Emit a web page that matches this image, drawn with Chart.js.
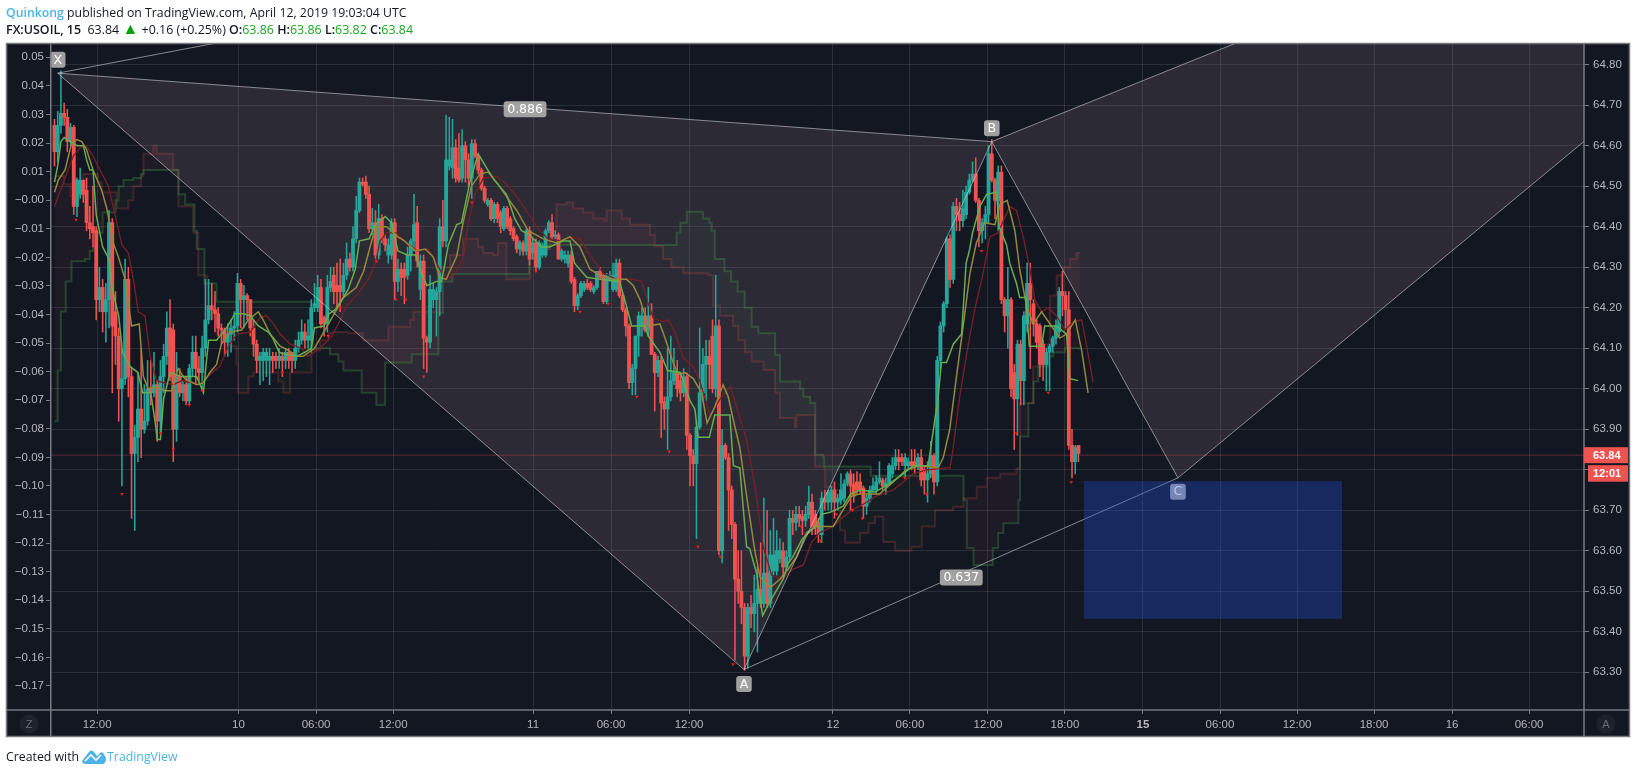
<!DOCTYPE html>
<html>
<head>
<meta charset="utf-8">
<title>FX:USOIL, 15</title>
<script src="https://cdn.jsdelivr.net/npm/chart.js@4/dist/chart.umd.min.js"></script>
<style>
  html, body { margin: 0; padding: 0; background: #fff; }
  #wrap { position: relative; width: 1636px; height: 774px; overflow: hidden; font-family: "Open Sans", sans-serif; color: #131722; }
  canvas { position: absolute; left: 0; top: 0; }
  .line { position: absolute; left: 6px; white-space: pre; font-size: 12.3px; line-height: 17px; }
  #top1 { top: 4px; }
  #top2 { top: 21px; font-size: 12.45px; }
  #foot { top: 748px; display: flex; align-items: center; }
  .brand { color: #4db3e6; }
  .up { color: #17a821; }
  .arrow { color: #0a9e0a; font-size: 16px; line-height: 14px; }
  b { font-weight: 600; }
  svg { margin: 0 1px 0 3px; }
</style>
</head>
<body>
<div id="wrap">
  <canvas id="chart" width="1636" height="774"></canvas>
  <div class="line" id="top1"><b class="brand">Quinkong</b> published on TradingView.com, April 12, 2019 19:03:04 UTC</div>
  <div class="line" id="top2"><b>FX:USOIL, 15</b>  63.84 <span class="arrow">▲</span> +0.16 (+0.25%) <b>O:</b><span class="up">63.86</span> <b>H:</b><span class="up">63.86</span> <b>L:</b><span class="up">63.82</span> <b>C:</b><span class="up">63.84</span></div>
  <div class="line" id="foot">Created with<svg width="24" height="15" viewBox="0 0 24 15"><path d="M0 12 L7 3 Q9 0 12 3 L15 7 L18 4 Q20 2 22 5 L24 9 Q24 15 20 15 L4 15 Q0 15 0 12 Z" fill="#4db3e6"/><path d="M3 12 L9 6 L14 11 L19 6" fill="none" stroke="#fff" stroke-width="1.6"/></svg><span class="brand">TradingView</span></div>
</div>
<script>
// candles, one per 15 minute bar
const opens = [
  64.65,64.585,64.65,64.68,64.67,64.61,64.645,64.45,64.48,64.515,
  64.49,64.41,64.40,64.39,64.22,64.25,64.19,64.22,64.41,64.19,
  64.13,64.00,64.025,64.27,64.03,63.84,63.88,63.95,63.90,63.92,
  64.00,63.99,64.01,63.92,64.03,64.08,64.15,64.145,63.90,64.03,
  63.99,64.01,63.97,64.05,64.09,64.05,64.04,64.10,64.17,64.205,
  64.195,64.185,64.15,64.145,64.115,64.135,64.15,64.155,64.26,64.22,
  64.23,64.22,64.15,64.11,64.07,64.07,64.07,64.07,64.08,64.08,
  64.07,64.08,64.07,64.09,64.09,64.07,64.10,64.12,64.14,64.12,
  64.12,64.20,64.20,64.25,64.175,64.16,64.25,64.28,64.255,64.255,
  64.24,64.28,64.32,64.30,64.37,64.44,64.51,64.51,64.48,64.395,
  64.41,64.33,64.42,64.37,64.33,64.33,64.41,64.265,64.295,64.295,
  64.28,64.33,64.365,64.41,64.245,64.315,64.125,64.115,64.22,64.22,
  64.24,64.40,64.365,64.55,64.545,64.595,64.545,64.52,64.60,64.565,
  64.52,64.605,64.575,64.54,64.495,64.455,64.465,64.42,64.455,64.435,
  64.395,64.445,64.42,64.395,64.375,64.345,64.36,64.34,64.39,64.335,
  64.36,64.30,64.33,64.33,64.39,64.41,64.375,64.38,64.32,64.32,
  64.31,64.33,64.27,64.205,64.23,64.245,64.26,64.26,64.24,64.25,
  64.29,64.28,64.215,64.27,64.245,64.245,64.31,64.23,64.195,64.155,
  64.015,64.05,64.13,64.155,64.18,64.145,64.18,64.085,64.04,64.07,
  63.968,63.95,63.98,64.02,64.04,64.02,63.99,64.03,63.885,63.835,
  63.815,63.905,63.99,64.06,64.08,64.13,64.00,64.155,63.60,63.86,
  63.83,63.75,63.665,63.53,63.50,63.46,63.34,63.46,63.445,63.47,
  63.505,63.47,63.545,63.47,63.55,63.55,63.58,63.60,63.56,63.585,
  63.68,63.67,63.69,63.685,63.675,63.69,63.72,63.69,63.67,63.64,
  63.73,63.72,63.72,63.75,63.72,63.725,63.73,63.765,63.79,63.765,
  63.77,63.77,63.755,63.71,63.73,63.75,63.75,63.77,63.775,63.757,
  63.767,63.79,63.81,63.83,63.83,63.81,63.81,63.82,63.82,63.81,
  63.83,63.80,63.775,63.79,63.835,63.77,64.07,64.155,64.21,64.37,
  64.27,64.45,64.43,64.415,64.43,64.485,64.515,64.53,64.465,64.39,
  64.41,64.43,64.58,64.515,64.465,64.535,64.22,64.18,64.22,64.04,
  63.975,64.11,64.02,64.16,64.26,64.21,64.16,64.155,64.11,64.06,
  64.09,64.105,64.125,64.14,64.24,64.23,64.195,63.86,63.82,63.86
];
const closes = [
  64.585,64.65,64.68,64.67,64.61,64.645,64.45,64.515,64.515,64.48,
  64.41,64.395,64.385,64.22,64.25,64.19,64.22,64.41,64.155,64.13,
  64.00,64.025,64.27,64.03,63.84,63.88,63.95,63.90,63.92,64.00,
  63.99,64.01,63.92,64.03,64.08,64.15,64.03,63.90,64.03,63.99,
  64.01,63.97,64.05,64.09,64.05,64.04,64.10,64.17,64.205,64.195,
  64.185,64.15,64.145,64.115,64.135,64.15,64.155,64.26,64.22,64.23,
  64.22,64.15,64.11,64.07,64.08,64.09,64.09,64.08,64.07,64.07,
  64.08,64.07,64.09,64.07,64.07,64.10,64.12,64.14,64.12,64.13,
  64.20,64.21,64.25,64.16,64.16,64.25,64.265,64.24,64.24,64.24,
  64.28,64.32,64.30,64.37,64.44,64.51,64.505,64.48,64.395,64.41,
  64.33,64.42,64.37,64.355,64.355,64.41,64.265,64.295,64.275,64.275,
  64.33,64.365,64.405,64.315,64.315,64.125,64.115,64.245,64.245,64.24,
  64.40,64.365,64.565,64.565,64.595,64.52,64.515,64.60,64.565,64.52,
  64.605,64.575,64.54,64.495,64.465,64.465,64.42,64.455,64.42,64.40,
  64.445,64.40,64.39,64.37,64.345,64.36,64.34,64.39,64.32,64.36,
  64.30,64.36,64.353,64.39,64.41,64.375,64.38,64.32,64.34,64.33,
  64.33,64.265,64.205,64.23,64.26,64.26,64.25,64.245,64.25,64.29,
  64.275,64.215,64.28,64.28,64.28,64.31,64.23,64.195,64.155,64.015,
  64.05,64.13,64.18,64.18,64.145,64.18,64.085,64.04,64.07,63.965,
  63.95,63.98,64.02,64.04,64.00,63.99,64.03,63.885,63.835,63.815,
  63.905,63.99,64.06,64.08,64.06,64.00,64.155,63.60,63.86,63.83,
  63.75,63.665,63.53,63.50,63.46,63.34,63.46,63.445,63.47,63.505,
  63.47,63.545,63.47,63.59,63.59,63.60,63.60,63.56,63.585,63.68,
  63.67,63.69,63.68,63.675,63.69,63.72,63.66,63.66,63.64,63.73,
  63.72,63.745,63.75,63.72,63.73,63.75,63.765,63.79,63.76,63.735,
  63.75,63.75,63.71,63.73,63.75,63.76,63.77,63.78,63.76,63.767,
  63.81,63.81,63.83,63.82,63.82,63.83,63.82,63.81,63.81,63.83,
  63.775,63.775,63.79,63.835,63.77,64.07,64.155,64.21,64.37,64.27,
  64.45,64.43,64.415,64.445,64.485,64.515,64.53,64.465,64.39,64.41,
  64.43,64.58,64.515,64.465,64.535,64.22,64.18,64.22,64.00,63.975,
  64.11,64.02,64.18,64.26,64.22,64.16,64.115,64.06,64.06,64.09,
  64.105,64.125,64.155,64.24,64.23,64.195,63.86,63.82,63.855,63.84
];
const highs = [
  64.665,64.685,64.785,64.705,64.69,64.655,64.65,64.52,64.545,64.515,
  64.52,64.45,64.50,64.40,64.30,64.27,64.26,64.44,64.42,64.24,
  64.15,64.10,64.32,64.30,64.05,63.91,64.04,64.10,64.01,64.07,
  64.07,64.09,64.02,64.07,64.11,64.19,64.22,64.16,64.09,64.05,
  64.02,64.03,64.06,64.13,64.13,64.08,64.13,64.27,64.27,64.26,
  64.24,64.20,64.16,64.15,64.16,64.17,64.19,64.285,64.27,64.255,
  64.235,64.22,64.17,64.12,64.09,64.10,64.10,64.10,64.09,64.09,
  64.10,64.09,64.10,64.10,64.09,64.12,64.14,64.17,64.16,64.17,
  64.22,64.26,64.28,64.27,64.18,64.28,64.30,64.30,64.31,64.32,
  64.31,64.36,64.335,64.40,64.475,64.52,64.52,64.525,64.50,64.445,
  64.44,64.455,64.43,64.38,64.37,64.42,64.42,64.32,64.31,64.31,
  64.35,64.37,64.48,64.45,64.33,64.33,64.13,64.28,64.26,64.25,
  64.42,64.465,64.675,64.67,64.665,64.615,64.63,64.64,64.61,64.58,
  64.615,64.615,64.58,64.545,64.50,64.47,64.47,64.46,64.46,64.44,
  64.45,64.45,64.425,64.40,64.38,64.365,64.365,64.395,64.40,64.37,
  64.37,64.365,64.36,64.395,64.415,64.43,64.39,64.385,64.345,64.34,
  64.34,64.34,64.275,64.235,64.265,64.265,64.27,64.265,64.255,64.29,
  64.30,64.285,64.285,64.29,64.31,64.32,64.32,64.235,64.20,64.16,
  64.06,64.13,64.19,64.20,64.20,64.25,64.21,64.09,64.08,64.08,
  63.98,64.10,64.13,64.10,64.07,64.04,64.05,64.04,63.89,63.85,
  63.92,64.15,64.10,64.12,64.12,64.17,64.28,64.17,63.90,63.865,
  63.84,63.76,63.67,63.60,63.60,63.47,63.47,63.49,63.54,63.56,
  63.62,63.73,63.70,63.65,63.68,63.65,63.63,63.62,63.60,63.70,
  63.70,63.71,63.71,63.70,63.71,63.76,63.74,63.70,63.68,63.745,
  63.75,63.75,63.76,63.77,63.74,63.79,63.775,63.795,63.80,63.79,
  63.795,63.79,63.76,63.74,63.76,63.78,63.785,63.82,63.78,63.78,
  63.815,63.83,63.85,63.85,63.84,63.84,63.83,63.85,63.85,63.84,
  63.85,63.81,63.82,63.87,63.84,64.08,64.165,64.215,64.375,64.38,
  64.46,64.47,64.46,64.49,64.50,64.53,64.56,64.57,64.47,64.42,
  64.45,64.60,64.615,64.52,64.55,64.55,64.225,64.30,64.225,64.06,
  64.12,64.12,64.19,64.31,64.31,64.22,64.17,64.16,64.12,64.10,
  64.11,64.13,64.17,64.25,64.29,64.24,64.24,63.90,63.86,63.86
];
const lows = [
  64.55,64.56,64.63,64.65,64.585,64.60,64.43,64.425,64.47,64.46,
  64.39,64.37,64.35,64.17,64.19,64.14,64.115,64.15,63.99,64.06,
  63.92,63.76,64.01,63.98,63.68,63.65,63.82,63.83,63.89,63.91,
  63.96,63.98,63.87,63.89,63.99,64.06,64.02,63.82,63.87,63.98,
  63.97,63.96,63.96,64.03,64.01,64.02,64.00,64.08,64.16,64.17,
  64.14,64.13,64.11,64.08,64.08,64.09,64.12,64.14,64.15,64.15,
  64.17,64.13,64.08,64.04,64.01,64.02,64.03,64.01,64.04,64.05,
  64.05,64.03,64.05,64.05,64.04,64.05,64.09,64.11,64.10,64.10,
  64.09,64.19,64.19,64.15,64.13,64.14,64.24,64.21,64.20,64.19,
  64.23,64.27,64.29,64.29,64.36,64.435,64.50,64.47,64.385,64.38,
  64.32,64.32,64.36,64.34,64.31,64.32,64.22,64.24,64.23,64.21,
  64.27,64.29,64.34,64.30,64.22,64.05,64.04,64.10,64.20,64.13,
  64.18,64.35,64.35,64.54,64.52,64.51,64.51,64.51,64.51,64.50,
  64.47,64.57,64.53,64.49,64.46,64.45,64.415,64.41,64.41,64.385,
  64.39,64.395,64.38,64.365,64.335,64.33,64.33,64.33,64.305,64.32,
  64.29,64.295,64.325,64.325,64.385,64.37,64.37,64.32,64.315,64.31,
  64.30,64.26,64.19,64.195,64.225,64.24,64.245,64.24,64.235,64.245,
  64.27,64.21,64.21,64.265,64.24,64.24,64.225,64.19,64.13,64.00,
  63.985,63.985,64.08,64.13,64.14,64.13,64.085,63.945,64.03,63.88,
  63.90,63.85,63.97,64.01,63.98,63.97,63.98,63.85,63.76,63.76,
  63.63,63.90,63.97,63.97,64.00,63.99,63.98,63.59,63.57,63.825,
  63.65,63.63,63.33,63.47,63.42,63.305,63.31,63.41,63.40,63.35,
  63.46,63.46,63.46,63.46,63.54,63.54,63.57,63.53,63.55,63.575,
  63.64,63.65,63.66,63.64,63.66,63.68,63.64,63.64,63.62,63.62,
  63.70,63.70,63.70,63.68,63.70,63.715,63.72,63.76,63.70,63.72,
  63.74,63.74,63.68,63.69,63.72,63.745,63.74,63.765,63.75,63.74,
  63.76,63.78,63.80,63.80,63.81,63.78,63.80,63.80,63.79,63.80,
  63.76,63.74,63.72,63.78,63.74,63.76,64.05,64.14,64.20,64.25,
  64.26,64.39,64.39,64.40,64.42,64.48,64.51,64.46,64.35,64.36,
  64.37,64.41,64.51,64.42,64.39,64.21,64.14,64.10,63.98,63.85,
  63.885,63.96,63.96,64.14,64.05,64.13,64.10,64.03,64.02,63.995,
  63.995,64.09,64.11,64.13,64.18,64.15,63.85,63.78,63.79,63.82
];

// moving averages: bar position and price
const fastX = [0,1,2,3,7,9,10,11,12,13,15,17,18,20,21.2,23.5,26,27.5,30,31.5,32,33,34,36,39.6,44.3,46.4,47,48,50.5,53.6,56.2,59,61,63.5,66.6,68,70,72,75.5,78,80,81,84,85.5,87.5,89.5,91.5,93.7,95,98,100,103,105,107,110,112.5,114.5,116,119,120.6,122.7,125.3,126.8,129.4,132,134.6,137,140.8,143.4,145.5,148,151.7,154.3,158.5,160.6,162,165.8,170,176,178,179.8,184,185,188.6,191,195,198,199.5,200.5,204,205.7,210.4,211.5,213.5,215.6,216.6,218.7,220.6,222.9,227,228.6,230,233,237,239,241.6,245.7,248,251,255.6,260,264.4,267.5,272.2,275.3,276.3,277.9,280,282.6,284,285,286,288.3,290.4,293.5,294.3,296.6,297.6,299.7,300.7,302.6,303.7,307.5,308.5,312.2,315.3,316.3,318.9];
const fastY = [64.51,64.55,64.61,64.62,64.60,64.60,64.565,64.54,64.54,64.43,64.35,64.32,64.245,64.18,64.09,64.055,64.04,63.99,63.99,63.91,63.875,63.875,63.975,64.04,64.03,64.03,63.99,64.04,64.12,64.12,64.15,64.185,64.185,64.18,64.155,64.14,64.125,64.09,64.085,64.08,64.09,64.10,64.15,64.155,64.185,64.195,64.22,64.245,64.295,64.365,64.37,64.405,64.425,64.41,64.34,64.33,64.33,64.28,64.255,64.265,64.265,64.355,64.405,64.41,64.51,64.58,64.545,64.515,64.48,64.42,64.39,64.38,64.35,64.35,64.365,64.365,64.31,64.275,64.27,64.265,64.21,64.155,64.155,64.13,64.09,64.045,64.04,63.97,63.95,63.88,63.88,63.935,63.935,63.81,63.805,63.61,63.605,63.545,63.44,63.475,63.53,63.57,63.585,63.63,63.66,63.69,63.695,63.71,63.74,63.75,63.745,63.765,63.79,63.81,63.81,63.98,64.065,64.065,64.11,64.135,64.31,64.34,64.385,64.45,64.48,64.485,64.40,64.355,64.31,64.26,64.225,64.225,64.105,64.105,64.155,64.155,64.135,64.025,64.02];

const midX = [0,1.2,3.3,5.3,6.9,8.5,10,12,14.7,16.3,18.3,19.9,22,24,26.4,27.7,29.2,31.8,34.4,36.5,38.5,40.6,44.3,46.4,48.4,50.5,52,54.7,58.3,60.4,63.5,65,67.2,70.3,72.8,75.5,77.5,81,85,87.5,90,94,96.3,99,100.5,103.5,107,109,112.5,115.5,118,120,122,125.3,127.3,129.9,132.5,135.1,137.7,140.8,144,147.6,152.3,156.4,160.6,163.7,166.8,169.9,174,178.2,180.3,182.4,185,188.6,190.2,192.8,194.3,196.4,199,201.6,203.3,205.7,208.3,209.9,212,213.5,215.8,218.2,219.8,223.1,226,228.6,231.2,234.3,237.4,242.6,245.2,248.3,250.9,257,261.3,265.4,269.6,275.3,276.9,278.9,281,283.1,285.2,287.2,289.8,293,294.5,296.8,299.2,300.7,302.8,304.9,307.5,310.6,313.2,315.3,318,320,322];
const midY = [64.485,64.515,64.54,64.605,64.615,64.61,64.59,64.54,64.49,64.445,64.36,64.325,64.27,64.155,64.16,64.03,64.00,64.005,63.995,63.995,64.05,64.025,64.01,64.015,64.04,64.06,64.11,64.14,64.145,64.17,64.19,64.17,64.135,64.105,64.095,64.08,64.08,64.10,64.155,64.19,64.225,64.25,64.29,64.37,64.40,64.40,64.375,64.365,64.34,64.345,64.325,64.275,64.27,64.327,64.41,64.50,64.53,64.535,64.51,64.475,64.44,64.39,64.37,64.36,64.375,64.35,64.295,64.28,64.27,64.27,64.255,64.22,64.155,64.16,64.125,64.063,64.035,64.04,64.025,63.99,63.915,63.955,64.01,63.98,63.905,63.855,63.725,63.60,63.535,63.51,63.53,63.555,63.585,63.645,63.66,63.66,63.695,63.735,63.74,63.74,63.77,63.80,63.81,63.805,63.83,63.90,64.03,64.155,64.285,64.36,64.41,64.405,64.455,64.465,64.39,64.295,64.205,64.16,64.19,64.155,64.125,64.135,64.17,64.095,63.99];

const slowX = [0,2.8,5.9,8,9.8,11.6,14.2,16.8,19.4,21,23,24.6,26.1,28.2,29.8,31.8,33.9,37,39.6,45.3,48.4,51.5,54.2,56.8,61,64,66.1,68.2,70.3,73.4,77,79,82.7,86.4,88.4,91,94,97.8,100,101.4,103.5,106.6,109,112.9,116.5,119,121.7,124.3,127.3,128.9,131,133.6,137.7,140.8,144,147,150.2,153.8,158,160.6,163.7,166.8,171,175.1,180.3,182.9,185,186.5,189.6,191.2,193.3,195.9,199,201,204.2,207.8,210.6,213,215.6,218.2,220.8,223.4,226.5,230.1,233.3,235.8,238.4,242.6,245.2,248.3,252,256,261.3,267.5,271.7,279,280,282,284.6,286.7,289.3,291.4,294,295.6,297.6,299.7,301.8,303.9,305.4,307.5,309.6,312.2,314.8,317.4,320,321,323.6];
const slowY = [64.45,64.51,64.575,64.595,64.60,64.58,64.54,64.50,64.41,64.355,64.335,64.27,64.19,64.18,64.08,64.02,64.015,64.01,64.02,64.01,64.035,64.055,64.105,64.135,64.14,64.175,64.18,64.16,64.135,64.11,64.10,64.08,64.10,64.13,64.16,64.205,64.23,64.27,64.31,64.365,64.385,64.385,64.365,64.34,64.345,64.31,64.27,64.28,64.32,64.41,64.48,64.52,64.525,64.505,64.475,64.44,64.40,64.37,64.365,64.375,64.37,64.33,64.285,64.27,64.27,64.265,64.21,64.175,64.165,64.17,64.14,64.075,64.055,64.02,63.935,63.98,64.005,63.94,63.875,63.76,63.61,63.54,63.53,63.555,63.565,63.62,63.645,63.66,63.68,63.70,63.715,63.735,63.75,63.79,63.80,63.805,63.855,63.98,64.105,64.195,64.285,64.375,64.385,64.415,64.45,64.44,64.375,64.295,64.22,64.19,64.20,64.18,64.145,64.165,64.17,64.13,64.015];

// cloud edges, stepped
const leadAX = [0,1,2,3.5,5.3,9.5,11,12,13,15,19,20,21.5,24.5,27,27.7,38.6,40.7,43.6,44.3,46.7,50.5,80,80.6,85.8,88.4,90,95.7,100.3,103,111.3,119.6,121,124,147.9,193.8,195,197,202,204,204.7,205.7,208.7,210.8,212.8,215,217.2,219.3,224.5,226,232.3,233.3,235.4,237,239.5,239.8,254.3,283.2,284.2,286.3,292.3,294,295.6,300.3,300.8,303.4,305,306.5,309.6,311.2,314.8,319.5];
const leadAY = [63.92,64.045,64.19,64.265,64.315,64.32,64.34,64.35,64.385,64.435,64.465,64.50,64.515,64.52,64.53,64.54,64.48,64.455,64.39,64.345,64.26,64.215,64.16,64.10,64.085,64.067,64.045,63.99,63.96,64.065,64.085,64.187,64.265,64.283,64.355,64.385,64.41,64.437,64.42,64.41,64.39,64.32,64.29,64.265,64.24,64.20,64.153,64.137,64.083,64.018,64.00,63.98,63.965,63.837,63.83,63.808,63.785,63.725,63.607,63.565,63.607,63.644,63.668,63.725,63.882,63.964,64.018,64.055,64.08,64.09,64.10,64.10];
const leadBX = [0,3,5,8.9,13.6,14.7,19.4,23,24.6,27,27.7,30.8,31.8,37,38.6,43.2,44.8,47.4,50.5,53.6,56.7,57.2,60.4,62,69.7,71.3,73.4,80.1,82.7,85.3,86.8,91.5,96.2,104,110.8,111.8,119.5,123.2,127.3,132,133.6,136.7,138.2,140.8,148.1,151.2,154.4,156.4,159.5,161.6,164.7,167.9,171.2,172,176.7,179.3,185.5,187,189.6,192.2,195.9,203.7,205.2,207.3,211.4,213,215.1,217.2,220.9,224.5,226,230.7,231.2,236.9,240,242.7,244.7,246.3,251,253.6,255.6,258.2,261.9,267,270.2,274.3,280,283.2,287.3,290.4,294.6,299.7,300.8,304.9,306.5,310.1,312.2,314.3,316.4,318.4,319.5];
const leadBY = [64.525,64.505,64.475,64.53,64.51,64.485,64.445,64.465,64.50,64.525,64.58,64.60,64.58,64.54,64.45,64.385,64.28,64.195,64.135,64.105,64.06,63.99,64.03,64.04,64.018,63.99,64.04,64.095,64.12,64.137,64.14,64.137,64.12,64.153,64.17,64.19,64.30,64.33,64.37,64.35,64.335,64.33,64.36,64.27,64.32,64.345,64.39,64.455,64.46,64.445,64.435,64.42,64.415,64.44,64.42,64.405,64.38,64.352,64.32,64.30,64.285,64.28,64.205,64.18,64.155,64.12,64.09,64.067,64.046,63.99,63.928,63.906,63.935,63.808,63.758,63.75,63.65,63.62,63.644,63.668,63.684,63.622,63.60,63.61,63.66,63.70,63.709,63.73,63.758,63.78,63.79,63.804,63.964,64.055,64.11,64.23,64.28,64.30,64.32,64.335,64.335];

// small red flags under the swing lows
const flagX = [6.7,21,33,37,42,46,53.3,71,85.3,89,100.3,106.3,109.4,115,130,150,163.7,172.5,181.4,191.5,200.5,207.4,211.4,232.6,238.6,243.6,248.6,251.7,264.9,271.7,288.8,299.7,309.6,316.8];
const flagY = [64.417,63.74,63.89,63.85,63.96,63.995,64.09,64.04,64.13,64.20,64.315,64.22,64.22,64.03,64.46,64.29,64.19,64.21,63.98,63.845,63.61,63.585,63.32,63.66,63.625,63.69,63.70,63.68,63.78,63.74,64.34,63.89,63.99,63.77];

// harmonic pattern vertices X A B C D (D sits off the chart)
const patternX = [1,214.8,292,350,651.6];
const patternY = [64.779,63.307,64.61,63.78,65.76];
const patternTags = ['X','A','B','C','0.886','0.637'];
const patternTagX = [1,214.8,292,350,146.6,282.5];
const patternTagY = [64.812,63.271,64.643,63.746,64.69,63.534];

// target box
const boxX = [320.7,401.1];
const boxY = [63.772,63.432];

// the price line sits a touch under 63.84 in the picture
const lastPriceLevel = 63.836;
const lastPriceText = '63.84';
const countdown = '12:01';

// axes
const timeTickPos = [13.3,57.3,81.5,105.5,149.1,173.4,197.7,242.5,266.5,290.8,314.8,339.1,363.1,387.1,411.1,435.4,459.4];
const timeTickLabels = ['12:00','10','06:00','12:00','11','06:00','12:00','12','06:00','12:00','18:00','15','06:00','12:00','18:00','16','06:00'];
const priceTicks = [63.30,63.40,63.50,63.60,63.70,63.80,63.90,64.00,64.10,64.20,64.30,64.40,64.50,64.60,64.70,64.80];
const priceTickLabels = ['63.30','63.40','63.50','63.60','63.70','','63.90','64.00','64.10','64.20','64.30','64.40','64.50','64.60','64.70','64.80'];
const leftTicks = [-0.17,-0.16,-0.15,-0.14,-0.13,-0.12,-0.11,-0.10,-0.09,-0.08,-0.07,-0.06,-0.05,-0.04,-0.03,-0.02,-0.01,0,0.01,0.02,0.03,0.04,0.05];
const leftTickLabels = ['−0.17','−0.16','−0.15','−0.14','−0.13','−0.12','−0.11','−0.10','−0.09','−0.08','−0.07','−0.06','−0.05','−0.04','−0.03','−0.02','−0.01','−0.00','0.01','0.02','0.03','0.04','0.05'];

const upColor = '#26a69a';
const downColor = '#ef5350';
const axisColor = '#777a80';
const labelColor = '#b6b8be';
const panelBg = '#131722';

const idx = opens.map((_, i) => i);
const barColors = opens.map((o, i) => closes[i] >= o ? upColor : downColor);
const pairs = (xs, ys) => xs.map((x, i) => ({ x: x, y: ys[i] }));

function lineSet(xs, ys, color, width, order, extra) {
    return Object.assign({
        type: 'line', data: pairs(xs, ys), borderColor: color, borderWidth: width,
        pointRadius: 0, fill: false, order: order
    }, extra || {});
}

const xEnd = 476.5, xStart = -1.09;
const px = patternX, py = patternY;
const edge = (a, b) => lineSet([px[a], px[b]], [py[a], py[b]], 'rgba(205,205,210,.62)', 1, 6);

const datasets = [
    lineSet(leadAX, leadAY, 'rgba(76,175,80,.28)', 2, 40, {
        stepped: true,
        fill: { target: 1, above: 'rgba(76,175,80,.05)', below: 'rgba(255,120,120,.05)' }
    }),
    lineSet(leadBX, leadBY, 'rgba(239,83,80,.2)', 2, 41, { stepped: true }),
    lineSet([xStart, xEnd], [lastPriceLevel, lastPriceLevel], 'rgba(239,83,80,.33)', 1, 35),
    { type: 'bar', data: idx.map(i => ({ x: i, y: [lows[i], highs[i]] })), backgroundColor: barColors,
      grouped: false, barPercentage: 1, categoryPercentage: 1, maxBarThickness: 0.9, order: 21 },
    { type: 'bar', data: idx.map(i => ({ x: i, y: [opens[i], closes[i]] })), backgroundColor: barColors,
      grouped: false, barPercentage: 1, categoryPercentage: 1, maxBarThickness: 3.2, minBarLength: 1, order: 20 },
    lineSet(slowX, slowY, '#7c1f24', 1.3, 12),
    lineSet(midX, midY, '#96893a', 1.5, 11),
    lineSet(fastX, fastY, '#66ae50', 1.5, 10),
    { type: 'scatter', data: pairs(flagX, flagY), pointStyle: 'triangle', rotation: 180, pointRadius: 2,
      backgroundColor: '#ff1a1a', borderWidth: 0, showLine: false, order: 9 },
    edge(0, 1), edge(1, 2), edge(0, 2), edge(1, 3), edge(2, 3), edge(3, 4), edge(2, 4), edge(0, 4)
];

function tag(ctx, text, cx, cy, bg, font, fg) {
    ctx.font = font;
    const w = ctx.measureText(text).width + 7, h = 16;
    ctx.fillStyle = bg;
    ctx.beginPath();
    ctx.roundRect(cx - w / 2, cy - h / 2, w, h, 3);
    ctx.fill();
    ctx.fillStyle = fg;
    ctx.textAlign = 'center';
    ctx.textBaseline = 'middle';
    ctx.fillText(text, cx, cy + 0.5);
}

const panelPlugin = {
    id: 'panel',
    beforeDraw(chart) {
        const c = chart.ctx;
        c.fillStyle = panelBg;
        c.fillRect(6, 43, 1624, 694);
    },
    // triangles of the pattern go under the candles
    beforeDatasetsDraw(chart) {
        const c = chart.ctx, a = chart.chartArea, xs = chart.scales.x, ys = chart.scales.y;
        c.save();
        c.beginPath();
        c.rect(a.left, a.top, a.width, a.height);
        c.clip();
        c.fillStyle = 'rgba(144,118,129,.2)';
        [[0, 1, 2], [2, 3, 4]].forEach(t => {
            c.beginPath();
            t.forEach((v, i) => {
                const fx = xs.getPixelForValue(px[v]), fy = ys.getPixelForValue(py[v]);
                if (i) c.lineTo(fx, fy); else c.moveTo(fx, fy);
            });
            c.closePath();
            c.fill();
        });
        c.restore();
    },
    afterDraw(chart) {
        const c = chart.ctx, a = chart.chartArea, xs = chart.scales.x, ys = chart.scales.y;
        c.save();
        patternTags.forEach((t, i) => {
            tag(c, t, xs.getPixelForValue(patternTagX[i]), ys.getPixelForValue(patternTagY[i]),
                'rgba(172,172,172,.92)', '12.5px "DejaVu Sans"', '#fff');
        });
        // target box on top, it tints the C tag and the line under it
        const bx0 = xs.getPixelForValue(boxX[0]), bx1 = xs.getPixelForValue(boxX[1]);
        const by0 = ys.getPixelForValue(boxY[0]), by1 = ys.getPixelForValue(boxY[1]);
        c.fillStyle = 'rgba(33,80,220,.33)';
        c.fillRect(bx0, by0, bx1 - bx0, by1 - by0);

        // frame and axis lines
        c.strokeStyle = axisColor;
        c.lineWidth = 1.5;
        c.strokeRect(6.5, 43.5, 1623, 693);
        c.beginPath();
        c.moveTo(a.left - 0.25, 43); c.lineTo(a.left - 0.25, 737);
        c.moveTo(a.right, 43); c.lineTo(a.right, 737);
        c.moveTo(6, a.bottom); c.lineTo(1630, a.bottom);
        c.stroke();

        // last price and countdown tags on the right axis
        const ly = ys.getPixelForValue(lastPriceLevel);
        c.fillStyle = downColor;
        c.fillRect(a.right, ly - 8, 44, 16);
        c.fillRect(a.right + 4, ly + 10, 40, 16.5);
        c.fillStyle = '#fff';
        c.font = 'bold 11px "Liberation Sans"';
        c.textAlign = 'left';
        c.textBaseline = 'middle';
        c.fillText(lastPriceText, a.right + 9, ly + 0.5);
        c.fillText(countdown, a.right + 9, ly + 18.5);

        // round buttons in the bottom corners
        [['Z', 29], ['A', 1606]].forEach(b => {
            c.fillStyle = '#1e222d';
            c.beginPath();
            c.arc(b[1], 724, 9.5, 0, Math.PI * 2);
            c.fill();
            c.fillStyle = '#6a6d78';
            c.font = '11px "Liberation Sans"';
            c.textAlign = 'center';
            c.fillText(b[0], b[1], 724.5);
        });
        c.restore();
    }
};

const tickFont = { family: '"Liberation Sans"', size: 11.5 };

new Chart(document.getElementById('chart'), {
    type: 'line',
    data: { datasets: datasets },
    plugins: [panelPlugin],
    options: {
        responsive: false,
        animation: false,
        events: [],
        layout: { padding: { left: 6, right: 6, top: 44, bottom: 37 } },
        plugins: { legend: { display: false }, tooltip: { enabled: false } },
        scales: {
            x: {
                type: 'linear',
                min: xStart,
                max: xEnd,
                offset: false,
                border: { display: false },
                afterBuildTicks: s => { s.ticks = timeTickPos.map(v => ({ value: v })); },
                afterFit: s => { s.height = 27; },
                grid: { offset: false, color: 'rgba(255,255,255,.1)', tickColor: axisColor, tickLength: 4 },
                ticks: {
                    autoSkip: false, maxRotation: 0, minRotation: 0, color: labelColor, padding: 4,
                    font: ctx => Object.assign({}, tickFont, { weight: timeTickLabels[ctx.index] === '15' ? 'bold' : 'normal' }),
                    callback: (v, i) => timeTickLabels[i]
                }
            },
            y: {
                position: 'right',
                min: 63.207,
                max: 64.851,
                border: { display: false },
                afterBuildTicks: s => { s.ticks = priceTicks.map(v => ({ value: v })); },
                afterFit: s => { s.width = 46; },
                grid: { color: 'rgba(255,255,255,.1)', tickColor: axisColor, tickLength: 5 },
                ticks: { autoSkip: false, color: labelColor, padding: 4, font: tickFont, callback: (v, i) => priceTickLabels[i] }
            },
            yLeft: {
                position: 'left',
                min: -0.1784,
                max: 0.05465,
                border: { display: false },
                afterBuildTicks: s => { s.ticks = leftTicks.map(v => ({ value: v })); },
                afterFit: s => { s.width = 45; },
                grid: { drawOnChartArea: false, tickColor: axisColor, tickLength: 5 },
                ticks: { autoSkip: false, color: labelColor, padding: 2, font: tickFont, callback: (v, i) => leftTickLabels[i] }
            }
        }
    }
});
</script>
</body>
</html>
